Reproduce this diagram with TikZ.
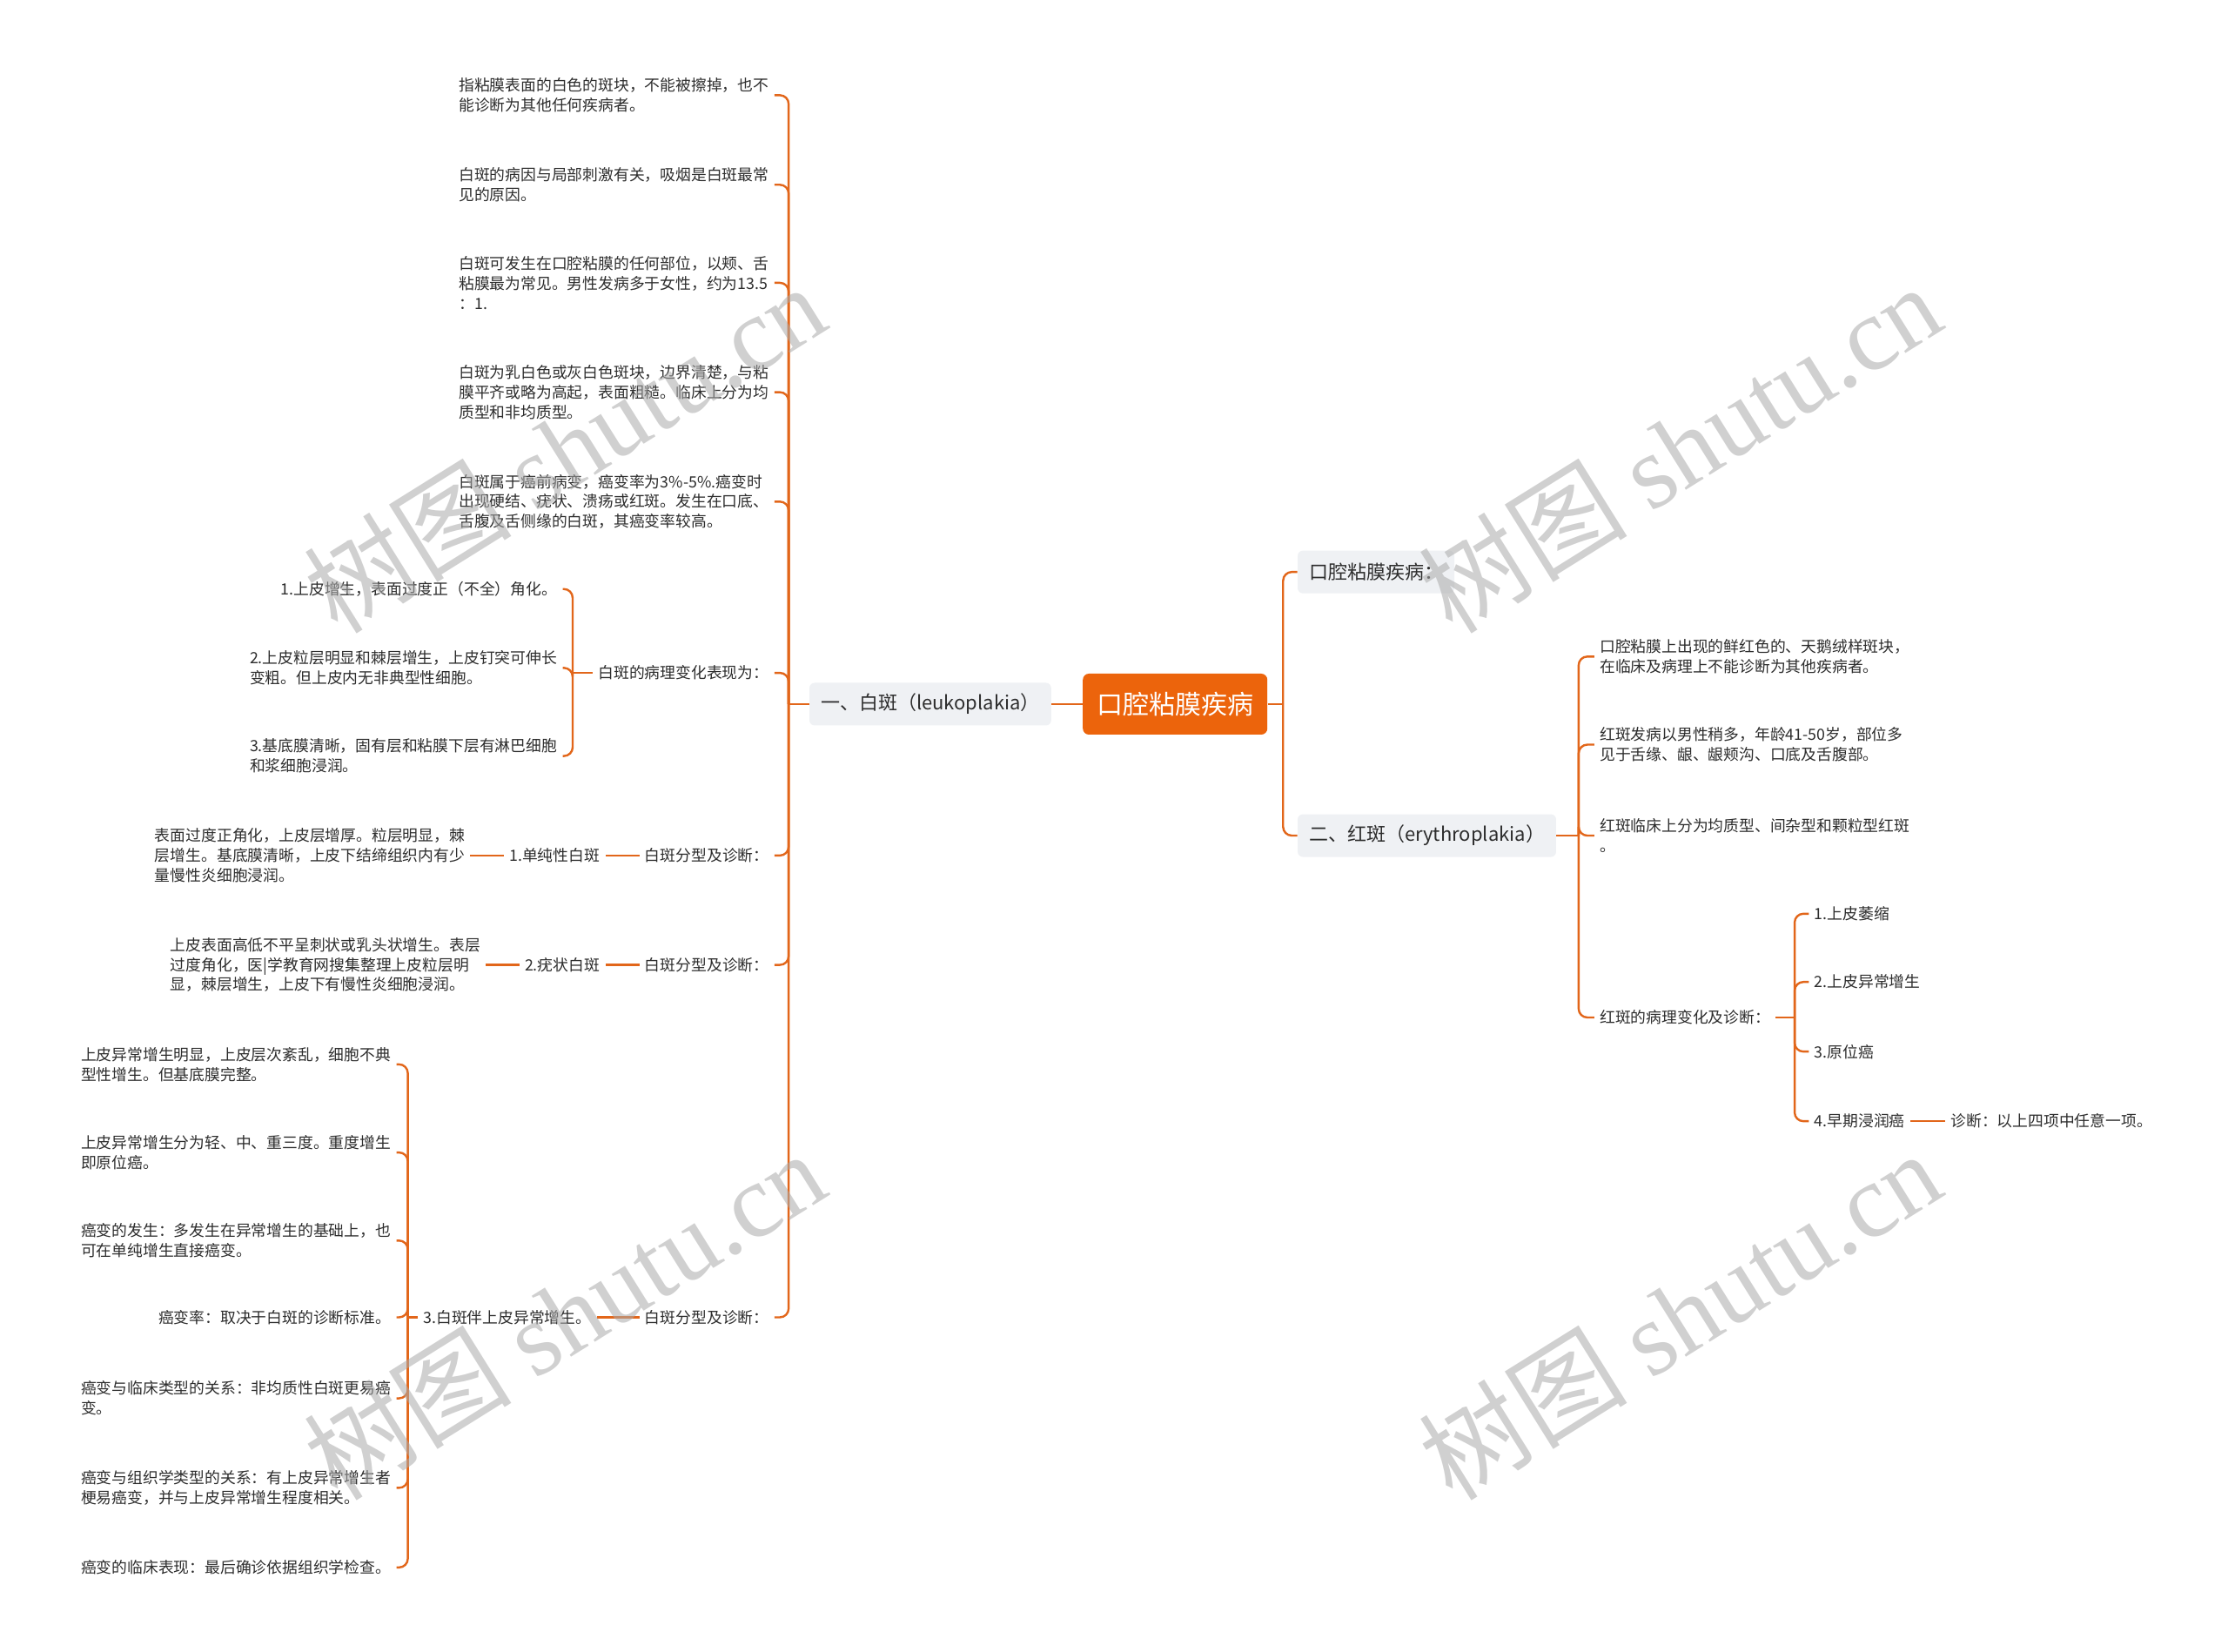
\documentclass[tikz,border=0pt]{standalone}
\usepackage{fontspec}
\setmainfont{Noto Sans CJK SC}
\newfontfamily\wmlat{Liberation Serif}
\definecolor{org}{RGB}{226,102,26}
\definecolor{rootc}{RGB}{236,100,12}
\definecolor{boxc}{RGB}{239,241,244}
\definecolor{txt}{RGB}{45,45,45}
\definecolor{wm}{RGB}{170,170,170}
\begin{document}
\begin{tikzpicture}[x=0.8163pt,y=-0.8163pt,
 conn/.style={draw=org,line width=1.2pt,rounded corners=5pt},
 leaf/.style={text=txt,font=\fontsize{8.9pt}{11.4pt}\selectfont,align=left,inner sep=3pt},
 l1box/.style={fill=boxc,rounded corners=3pt,text=txt,font=\fontsize{11pt}{13pt}\selectfont,inner xsep=6.5pt,minimum height=24.5pt},
 rootbox/.style={fill=rootc,rounded corners=3.5pt,text=white,font=\fontsize{15pt}{18pt}\selectfont,minimum width=106pt,minimum height=35pt},
 wmark/.style={text=wm,opacity=0.55,rotate=32,font=\fontsize{60pt}{60pt}\selectfont}]
\useasboundingbox[fill=white] (0,0) rectangle (1568,1162);

% root and first level
\node[rootbox] (root) at (827,495.5) {口腔粘膜疾病};
\node[l1box,anchor=east] (bai) at (740,495.5) {一、白斑（leukoplakia）};
\node[l1box,anchor=west] (kq) at (913,402.5) {口腔粘膜疾病：};
\node[l1box,anchor=west] (hong) at (913,588) {二、红斑（erythroplakia）};

\coordinate (rj0) at (903,495.5);
\draw[conn] (root.west) -- (bai.east);
\draw[conn] (root.east) -- (rj0);
\draw[conn] (rj0) |- (kq.west);
\draw[conn] (rj0) |- (hong.west);

% ---------- left branch: 白斑 ----------
\node[leaf,anchor=east] (b1) at (545,67) {指粘膜表面的白色的斑块，不能被擦掉，也不\\能诊断为其他任何疾病者。};
\node[leaf,anchor=east] (b2) at (545,130) {白斑的病因与局部刺激有关，吸烟是白斑最常\\见的原因。};
\node[leaf,anchor=east] (b3) at (545,199) {白斑可发生在口腔粘膜的任何部位，以颊、舌\\粘膜最为常见。男性发病多于女性，约为13.5\\：1.};
\node[leaf,anchor=east] (b4) at (545,276) {白斑为乳白色或灰白色斑块，边界清楚，与粘\\膜平齐或略为高起，表面粗糙。临床上分为均\\质型和非均质型。};
\node[leaf,anchor=east] (b5) at (545,353) {白斑属于癌前病变，癌变率为3\%-5\%.癌变时\\出现硬结、疣状、溃疡或红斑。发生在口底、\\舌腹及舌侧缘的白斑，其癌变率较高。};
\node[leaf,anchor=east] (bl) at (545,473.5) {白斑的病理变化表现为：};
\node[leaf,anchor=east] (fx1) at (545,602) {白斑分型及诊断：};
\node[leaf,anchor=east] (fx2) at (545,679) {白斑分型及诊断：};
\node[leaf,anchor=east] (fx3) at (545,927) {白斑分型及诊断：};

\coordinate (bj) at (555,495.5);
\draw[conn] (bai.west) -- (bj);
\foreach \c in {b1,b2,b3,b4,b5,bl,fx1,fx2,fx3} \draw[conn] (bj) |- (\c.east);

% pathology
\node[leaf,anchor=east] (p1) at (396,414.5) {1.上皮增生，表面过度正（不全）角化。};
\node[leaf,anchor=east] (p2) at (396,470) {2.上皮粒层明显和棘层增生，上皮钉突可伸长\\变粗。但上皮内无非典型性细胞。};
\node[leaf,anchor=east] (p3) at (396,532) {3.基底膜清晰，固有层和粘膜下层有淋巴细胞\\和浆细胞浸润。};
\coordinate (pj) at (403,473.5);
\draw[conn] (bl.west) -- (pj);
\foreach \c in {p1,p2,p3} \draw[conn] (pj) |- (\c.east);

% types
\node[leaf,anchor=east] (d1) at (426,602) {1.单纯性白斑};
\node[leaf,anchor=east] (t1) at (331,602) {表面过度正角化，上皮层增厚。粒层明显，棘\\层增生。基底膜清晰，上皮下结缔组织内有少\\量慢性炎细胞浸润。};
\draw[conn] (fx1.west) -- (d1.east);
\draw[conn] (d1.west) -- (t1.east);

\node[leaf,anchor=east] (d2) at (426,679) {2.疣状白斑};
\node[leaf,anchor=east] (t2) at (342,679) {上皮表面高低不平呈刺状或乳头状增生。表层\\过度角化，医|学教育网搜集整理上皮粒层明\\显，棘层增生，上皮下有慢性炎细胞浸润。};
\draw[conn] (fx2.west) -- (d2.east);
\draw[conn] (d2.west) -- (t2.east);

\node[leaf,anchor=east] (d3) at (420,927) {3.白斑伴上皮异常增生。};
\draw[conn] (fx3.west) -- (d3.east);

\node[leaf,anchor=east] (s1) at (279,749) {上皮异常增生明显，上皮层次紊乱，细胞不典\\型性增生。但基底膜完整。};
\node[leaf,anchor=east] (s2) at (279,811) {上皮异常增生分为轻、中、重三度。重度增生\\即原位癌。};
\node[leaf,anchor=east] (s3) at (279,873) {癌变的发生：多发生在异常增生的基础上，也\\可在单纯增生直接癌变。};
\node[leaf,anchor=east] (s4) at (279,927) {癌变率：取决于白斑的诊断标准。};
\node[leaf,anchor=east] (s5) at (279,984) {癌变与临床类型的关系：非均质性白斑更易癌\\变。};
\node[leaf,anchor=east] (s6) at (279,1047) {癌变与组织学类型的关系：有上皮异常增生者\\梗易癌变，并与上皮异常增生程度相关。};
\node[leaf,anchor=east] (s7) at (279,1103) {癌变的临床表现：最后确诊依据组织学检查。};
\coordinate (sj) at (287,927);
\draw[conn] (d3.west) -- (sj);
\foreach \c in {s1,s2,s3,s4,s5,s6,s7} \draw[conn] (sj) |- (\c.east);

% ---------- right branch: 红斑 ----------
\node[leaf,anchor=west] (r1) at (1122,462) {口腔粘膜上出现的鲜红色的、天鹅绒样斑块，\\在临床及病理上不能诊断为其他疾病者。};
\node[leaf,anchor=west] (r2) at (1122,524) {红斑发病以男性稍多，年龄41-50岁，部位多\\见于舌缘、龈、龈颊沟、口底及舌腹部。};
\node[leaf,anchor=west] (r3) at (1122,588) {红斑临床上分为均质型、间杂型和颗粒型红斑\\。};
\node[leaf,anchor=west] (r4) at (1122,716) {红斑的病理变化及诊断：};
\coordinate (hj) at (1111,588);
\draw[conn] (hong.east) -- (hj);
\foreach \c in {r1,r2,r3,r4} \draw[conn] (hj) |- (\c.west);

\node[leaf,anchor=west] (q1) at (1273,643) {1.上皮萎缩};
\node[leaf,anchor=west] (q2) at (1273,691) {2.上皮异常增生};
\node[leaf,anchor=west] (q3) at (1273,740) {3.原位癌};
\node[leaf,anchor=west] (q4) at (1273,789) {4.早期浸润癌};
\node[leaf,anchor=west] (zd) at (1369,789) {诊断：以上四项中任意一项。};
\coordinate (qj) at (1263,716);
\draw[conn] (r4.east) -- (qj);
\foreach \c in {q1,q2,q3,q4} \draw[conn] (qj) |- (\c.west);
\draw[conn] (q4.east) -- (zd.west);

% ---------- watermarks ----------
\node[wmark] (w1) at (397,315) {树图 {\wmlat shutu.cn}};
\node[wmark] (w2) at (1182,315) {树图 {\wmlat shutu.cn}};
\node[wmark] (w3) at (397,925) {树图 {\wmlat shutu.cn}};
\node[wmark] (w4) at (1182,925) {树图 {\wmlat shutu.cn}};
\end{tikzpicture}
\end{document}
